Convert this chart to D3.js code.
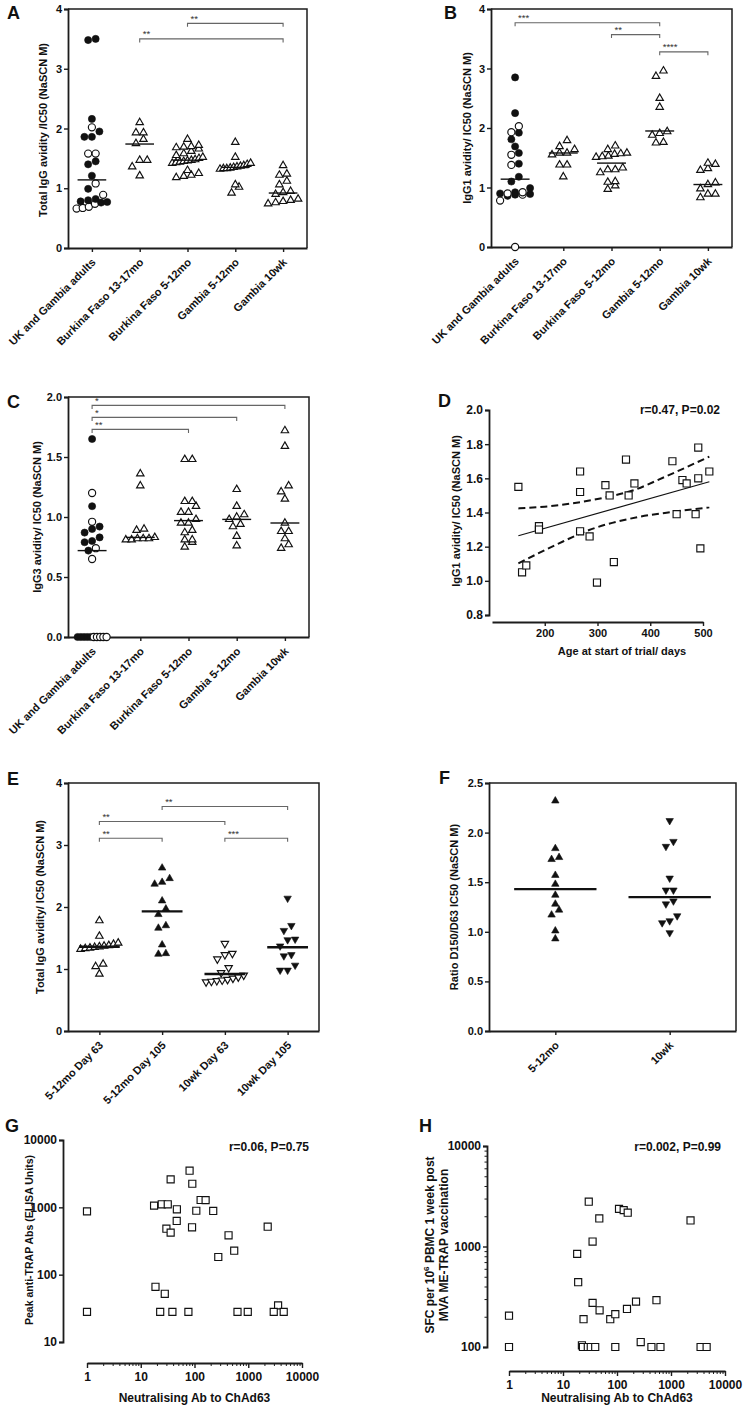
<!DOCTYPE html>
<html>
<head>
<meta charset="utf-8">
<script src="https://cdn.jsdelivr.net/npm/d3@7"></script>
<style>
body { margin: 0; background: #fff; }
svg { display: block; font-family: "Liberation Sans", Arial, sans-serif; font-weight: bold; }
</style>
</head>
<body>
<script>
// ---- data ----

// A: total IgG avidity
var catsAC = ["UK and Gambia adults", "Burkina Faso 13-17mo", "Burkina Faso 5-12mo", "Gambia 5-12mo", "Gambia 10wk"];
var aUkFilled = [3.50, 3.48, 2.16, 1.95, 1.86, 1.86, 1.45, 1.40, 1.21, 0.99, 0.82, 0.80, 0.78, 0.77, 0.76];
var aUkOpen = [2.02, 1.58, 1.58, 1.08, 0.89, 0.74, 0.69, 0.67, 0.66];
var aBf1317 = [2.10, 1.93, 1.93, 1.82, 1.75, 1.47, 1.47, 1.36, 1.21];
var aBf512 = [1.82, 1.72, 1.70, 1.69, 1.68, 1.66, 1.62, 1.58, 1.55, 1.52, 1.50, 1.48, 1.47, 1.46, 1.45, 1.44, 1.43, 1.42, 1.30, 1.25, 1.22, 1.20, 1.18];
var aGam512 = [1.77, 1.52, 1.42, 1.40, 1.38, 1.37, 1.36, 1.35, 1.34, 1.33, 1.33, 1.32, 1.06, 1.02, 0.92];
var aGam10 = [1.38, 1.24, 1.22, 1.12, 1.06, 0.95, 0.93, 0.90, 0.82, 0.80, 0.78, 0.76, 0.74];
var aMedians = [1.14, 1.74, 1.47, 1.35, 0.92];
var aSig = [[1, 4, 3.50, "**"], [2, 4, 3.76, "**"]];

// B: IgG1 avidity
var bUkFilled = [2.85, 2.25, 1.92, 1.81, 1.69, 1.58, 1.40, 1.18, 1.10, 0.99, 0.92, 0.90, 0.89, 0.88, 0.86];
var bUkOpen = [2.03, 1.93, 1.55, 1.38, 0.92, 0.90, 0.88, 0.78, 0.0];
var bBf1317 = [1.79, 1.69, 1.64, 1.58, 1.58, 1.55, 1.38, 1.38, 1.18];
var bBf512 = [1.70, 1.64, 1.58, 1.57, 1.56, 1.53, 1.52, 1.51, 1.33, 1.30, 1.30, 1.25, 1.10, 1.09, 1.03, 0.97];
var bGam512 = [2.96, 2.87, 2.50, 2.35, 1.94, 1.91, 1.88, 1.76, 1.75];
var bGam10 = [1.41, 1.39, 1.32, 1.29, 1.08, 1.05, 0.98, 0.89, 0.89, 0.83];
var bMedians = [1.14, 1.58, 1.41, 1.95, 1.05];
var bSig = [[0, 3, 3.77, "***"], [2, 3, 3.57, "**"], [3, 4, 3.28, "****"]];

// C: IgG3 avidity
var cUkFilled = [1.65, 1.09, 0.92, 0.90, 0.87, 0.83, 0.80, 0.79, 0.72, 0, 0, 0, 0, 0];
var cUkOpen = [1.20, 0.96, 0.74, 0.65, 0, 0, 0, 0, 0];
var cBf1317 = [1.36, 1.26, 0.90, 0.89, 0.83, 0.82, 0.82, 0.81, 0.81, 0.82];
var cBf512 = [1.48, 1.48, 1.13, 1.13, 1.09, 1.04, 1.04, 0.98, 0.95, 0.95, 0.89, 0.87, 0.81, 0.81, 0.79, 0.75];
var cGam512 = [1.23, 1.09, 1.02, 1.00, 0.98, 0.94, 0.92, 0.84, 0.76];
var cGam10 = [1.72, 1.59, 1.26, 1.21, 1.15, 0.95, 0.88, 0.88, 0.82, 0.77, 0.74];
var cMedians = [0.72, 0.83, 0.97, 0.98, 0.95];
var cSig = [[0, 4, 1.93, "*"], [0, 3, 1.83, "*"], [0, 2, 1.73, "**"]];

// D: IgG1 avidity vs age
var dAge = [150, 157, 165, 189, 189, 267, 267, 267, 285, 299, 315, 323, 331, 354, 359, 370, 442, 450, 461, 469, 486, 491, 491, 495, 512];
var dAvidity = [1.55, 1.05, 1.09, 1.32, 1.30, 1.64, 1.52, 1.29, 1.26, 0.99, 1.56, 1.50, 1.11, 1.71, 1.50, 1.57, 1.70, 1.39, 1.59, 1.57, 1.39, 1.78, 1.60, 1.19, 1.64];
var dFitAge = [150, 512];
var dFitVal = [1.264, 1.58];
var dUpperAge = [150, 200, 251, 314, 365, 428, 512];
var dUpperVal = [1.424, 1.434, 1.453, 1.488, 1.527, 1.609, 1.727];
var dLowerAge = [150, 226, 283, 378, 441, 512];
var dLowerVal = [1.102, 1.218, 1.296, 1.374, 1.403, 1.43];

// E: total IgG avidity by day
var catsE = ["5-12mo Day 63", "5-12mo Day 105", "10wk Day 63", "10wk Day 105"];
var e512d63 = [1.78, 1.53, 1.42, 1.40, 1.38, 1.37, 1.36, 1.35, 1.34, 1.33, 1.32, 1.08, 1.04, 0.92];
var e512d105 = [2.63, 2.46, 2.40, 2.37, 2.10, 1.97, 1.88, 1.70, 1.66, 1.39, 1.25, 1.24];
var e10d63 = [1.41, 1.25, 1.23, 1.16, 1.02, 0.94, 0.90, 0.87, 0.85, 0.83, 0.82, 0.81, 0.80, 0.79];
var e10d105 = [2.14, 1.70, 1.62, 1.48, 1.47, 1.37, 1.23, 1.21, 1.06, 0.98, 0.98];
var eMedians = [1.36, 1.93, 0.92, 1.35];
var eSig = [[1, 3, 3.62, "**"], [0, 2, 3.38, "**"], [0, 1, 3.11, "**"], [2, 3, 3.11, "***"]];

// F: ratio D150/D63
var catsF = ["5-12mo", "10wk"];
var f512 = [2.32, 1.84, 1.75, 1.73, 1.57, 1.48, 1.37, 1.28, 1.22, 1.17, 1.01, 0.93];
var f10 = [2.12, 1.91, 1.86, 1.54, 1.42, 1.42, 1.31, 1.28, 1.16, 1.11, 1.09, 0.99];
var fMedians = [1.43, 1.35];

// G: peak anti-TRAP Abs vs neutralising Ab
var gNab = [1, 1, 17.7, 24.6, 31.8, 36, 47, 46.7, 30, 36, 81, 91, 130, 161, 108, 223, 90, 430, 548, 277, 2300, 18.8, 28, 23, 38.8, 77, 631, 980, 3590, 2980, 4570];
var gTrap = [870, 28, 1060, 1110, 1110, 2600, 935, 627, 482, 421, 3500, 2240, 1285, 1280, 890, 883, 505, 384, 227, 183, 516, 66, 52, 28, 28, 28, 28, 28, 35, 28, 28];

// H: SFC vs neutralising Ab
var hNab = [1, 1, 30, 47, 35.3, 18.3, 19.1, 109, 133, 158, 2300, 35.3, 47.6, 24, 75, 93, 153, 225, 538, 275, 22.4, 23.4, 28.8, 32.7, 39.5, 93, 434, 638, 3530, 4570];
var hSfc = [205, 100, 2790, 1900, 1120, 845, 441, 2370, 2300, 2170, 1815, 275, 232, 189, 189, 212, 239, 283, 292, 112, 104, 100, 100, 100, 100, 100, 100, 100, 100, 100];

// ---- drawing ----
var ink = "#1c1c1c";
var fontFam = "Liberation Sans, Arial, sans-serif";
var svg = d3.select("body").append("svg").attr("width", 743).attr("height", 1406);

var symbols = {
    circle: d3.symbol().type(d3.symbolCircle).size(40),
    tri: d3.symbol().type(d3.symbolTriangle).size(24),
    square: d3.symbol().type(d3.symbolSquare).size(50)
};

function styleAxis(sel, fs) {
    sel.attr("font-family", fontFam).attr("font-size", fs).attr("font-weight", "bold");
    sel.select(".domain").attr("stroke", ink).attr("stroke-width", 1.8);
    sel.selectAll(".tick line").attr("stroke", ink).attr("stroke-width", 1.4);
    sel.selectAll(".tick text").attr("fill", "#111");
}

function drawMarker(g, px, py, sym, filled) {
    var shape = sym === "circle" ? symbols.circle : sym === "square" ? symbols.square : symbols.tri;
    var rot = sym === "tridown" ? " rotate(180)" : "";
    g.append("path")
        .attr("d", shape())
        .attr("transform", "translate(" + px + "," + py + ")" + rot)
        .attr("fill", filled ? "#111" : "#fff")
        .attr("stroke", "#111")
        .attr("stroke-width", filled ? 0.6 : 1.15);
}

// row layout like a column scatter: nearby values sit side by side
function swarm(points, y, gap, maxHalf) {
    points.forEach(function(p) { p.py = y(p.v); });
    var sorted = points.slice().sort(function(a, b) { return b.py - a.py; });
    var rows = [], cur = null;
    sorted.forEach(function(p) {
        if (cur && Math.abs(p.py - cur[0].py) < gap) cur.push(p);
        else { cur = [p]; rows.push(cur); }
    });
    rows.forEach(function(r) {
        var n = r.length;
        var s = n > 1 ? Math.min(gap + 0.5, 2 * maxHalf / (n - 1)) : 0;
        r.forEach(function(p, i) { p.dx = (i - (n - 1) / 2) * s; });
    });
    return sorted;
}

function letter(txt, x, y) {
    svg.append("text").attr("x", x).attr("y", y)
        .attr("font-size", 18).attr("font-weight", "bold").attr("fill", "#111").text(txt);
}

function yTitle(lines, x, y, fs) {
    var t = svg.append("text")
        .attr("transform", "translate(" + x + "," + y + ") rotate(-90)")
        .attr("text-anchor", "middle").attr("font-size", fs).attr("fill", "#111");
    t.text(lines);
    return t;
}

function columnPanel(p) {
    var g = svg.append("g");
    var x = d3.scalePoint().domain(d3.range(p.cats.length)).range([p.left, p.right]).padding(p.pad);
    var y = d3.scaleLinear().domain(p.domain).range([p.bottom, p.top]);
    var step = x.step();

    // frame (top + right)
    g.append("path")
        .attr("d", "M" + x.range()[0] + "," + y.range()[1] + "H" + x.range()[1] + "V" + y.range()[0])
        .attr("fill", "none").attr("stroke", ink).attr("stroke-width", 1.5);

    var ya = g.append("g").attr("transform", "translate(" + p.left + ",0)")
        .call(d3.axisLeft(y).tickValues(p.ticks).tickFormat(p.fmt).tickSize(4).tickPadding(2));
    styleAxis(ya, 11);

    var xa = g.append("g").attr("transform", "translate(0," + p.bottom + ")")
        .call(d3.axisBottom(x).tickFormat(function(i) { return p.cats[i]; }).tickSize(4).tickSizeOuter(0));
    styleAxis(xa, 11);
    xa.selectAll(".tick text")
        .attr("x", 0).attr("y", 0).attr("dy", 0)
        .attr("text-anchor", "end")
        .attr("transform", "translate(4,15) rotate(-45)");

    // brackets
    p.sig.forEach(function(s) {
        var x1 = x(s[0]), x2 = x(s[1]), yy = y(s[2]);
        g.append("path")
            .attr("d", "M" + x1 + "," + (yy + 3.5) + "V" + yy + "H" + x2 + "V" + (yy + 3.5))
            .attr("fill", "none").attr("stroke", "#666").attr("stroke-width", 1.1);
        g.append("text").attr("x", x1 + 3).attr("y", yy - 1.5)
            .attr("font-size", 9.5).attr("font-weight", "normal").attr("fill", "#333").text(s[3]);
    });

    // points
    p.groups.forEach(function(grp, i) {
        var pts = [];
        grp.forEach(function(sub) {
            sub.vals.forEach(function(v) { pts.push({ v: v, sym: sub.sym, filled: sub.filled }); });
        });
        swarm(pts, y, p.gap, step * p.spread).forEach(function(pt) {
            drawMarker(g, x(i) + pt.dx, pt.py, pt.sym, pt.filled);
        });
    });

    // medians
    p.medians.forEach(function(m, i) {
        g.append("line")
            .attr("x1", x(i) - step * p.medW / 2).attr("x2", x(i) + step * p.medW / 2)
            .attr("y1", y(m)).attr("y2", y(m))
            .attr("stroke", "#111").attr("stroke-width", p.medStroke);
    });
    return { x: x, y: y };
}

// ---- A ----
columnPanel({
    left: 68, right: 307, top: 9, bottom: 248, pad: 0.5,
    domain: [0, 4], ticks: [0, 1, 2, 3, 4], fmt: d3.format("d"),
    cats: catsAC, gap: 7, spread: 0.32, medW: 0.6, medStroke: 1.4,
    groups: [
        [{ vals: aUkFilled, sym: "circle", filled: true }, { vals: aUkOpen, sym: "circle", filled: false }],
        [{ vals: aBf1317, sym: "tri", filled: false }],
        [{ vals: aBf512, sym: "tri", filled: false }],
        [{ vals: aGam512, sym: "tri", filled: false }],
        [{ vals: aGam10, sym: "tri", filled: false }]
    ],
    medians: aMedians, sig: aSig
});
letter("A", 7, 19);
yTitle("Total IgG avidity /IC50 (NaSCN M)", 47, 130, 11);

// ---- B ----
columnPanel({
    left: 491, right: 732, top: 9, bottom: 247, pad: 0.5,
    domain: [0, 4], ticks: [0, 1, 2, 3, 4], fmt: d3.format("d"),
    cats: catsAC, gap: 7, spread: 0.32, medW: 0.6, medStroke: 1.4,
    groups: [
        [{ vals: bUkFilled, sym: "circle", filled: true }, { vals: bUkOpen, sym: "circle", filled: false }],
        [{ vals: bBf1317, sym: "tri", filled: false }],
        [{ vals: bBf512, sym: "tri", filled: false }],
        [{ vals: bGam512, sym: "tri", filled: false }],
        [{ vals: bGam10, sym: "tri", filled: false }]
    ],
    medians: bMedians, sig: bSig
});
letter("B", 444, 19);
yTitle("IgG1 avidity/ IC50 (NaSCN M)", 471, 128, 11);

// ---- C ----
columnPanel({
    left: 68, right: 309, top: 397, bottom: 637, pad: 0.5,
    domain: [0, 2], ticks: [0, 0.5, 1, 1.5, 2], fmt: d3.format(".1f"),
    cats: catsAC, gap: 7, spread: 0.3, medW: 0.6, medStroke: 1.4,
    groups: [
        [{ vals: cUkFilled, sym: "circle", filled: true }, { vals: cUkOpen, sym: "circle", filled: false }],
        [{ vals: cBf1317, sym: "tri", filled: false }],
        [{ vals: cBf512, sym: "tri", filled: false }],
        [{ vals: cGam512, sym: "tri", filled: false }],
        [{ vals: cGam10, sym: "tri", filled: false }]
    ],
    medians: cMedians, sig: cSig
});
letter("C", 7, 408);
yTitle("IgG3 avidity/ IC50 (NaSCN M)", 41, 517, 11);

// ---- E ----
columnPanel({
    left: 68, right: 319, top: 783, bottom: 1031, pad: 0.5,
    domain: [0, 4], ticks: [0, 1, 2, 3, 4], fmt: d3.format("d"),
    cats: catsE, gap: 7, spread: 0.3, medW: 0.65, medStroke: 2.4,
    groups: [
        [{ vals: e512d63, sym: "tri", filled: false }],
        [{ vals: e512d105, sym: "tri", filled: true }],
        [{ vals: e10d63, sym: "tridown", filled: false }],
        [{ vals: e10d105, sym: "tridown", filled: true }]
    ],
    medians: eMedians, sig: eSig
});
letter("E", 7, 785);
yTitle("Total IgG avidity/ IC50 (NaSCN M)", 44, 907, 11);

// ---- F ----
columnPanel({
    left: 489, right: 736, top: 783, bottom: 1031, pad: 0.58,
    domain: [0, 2.5], ticks: [0, 0.5, 1, 1.5, 2, 2.5], fmt: d3.format(".1f"),
    cats: catsF, gap: 7, spread: 0.16, medW: 0.72, medStroke: 2.4,
    groups: [
        [{ vals: f512, sym: "tri", filled: true }],
        [{ vals: f10, sym: "tridown", filled: true }]
    ],
    medians: fMedians, sig: []
});
letter("F", 439, 784);
yTitle("Ratio D150/D63 IC50 (NaSCN M)", 458, 907, 11);

// ---- D ----
(function() {
    var g = svg.append("g");
    var x = d3.scaleLinear().domain([100, 500]).range([492, 703]);
    var y = d3.scaleLinear().domain([0.8, 2.0]).range([615, 410]);

    var ya = g.append("g").attr("transform", "translate(489,0)")
        .call(d3.axisLeft(y).tickValues([0.8, 1.0, 1.2, 1.4, 1.6, 1.8, 2.0]).tickFormat(d3.format(".1f")).tickSize(4).tickPadding(2));
    styleAxis(ya, 12);
    var xa = g.append("g").attr("transform", "translate(0,622)")
        .call(d3.axisBottom(x).tickValues([200, 300, 400, 500]).tickSize(4).tickSizeOuter(0));
    styleAxis(xa, 11);

    var band = d3.line().x(function(d) { return x(d[0]); }).y(function(d) { return y(d[1]); }).curve(d3.curveMonotoneX);
    g.append("path").attr("d", band(d3.zip(dUpperAge, dUpperVal)))
        .attr("fill", "none").attr("stroke", "#111").attr("stroke-width", 2).attr("stroke-dasharray", "7,4");
    g.append("path").attr("d", band(d3.zip(dLowerAge, dLowerVal)))
        .attr("fill", "none").attr("stroke", "#111").attr("stroke-width", 2).attr("stroke-dasharray", "7,4");
    g.append("path").attr("d", band(d3.zip(dFitAge, dFitVal)))
        .attr("fill", "none").attr("stroke", "#111").attr("stroke-width", 1.2);

    dAge.forEach(function(a, i) { drawMarker(g, x(a), y(dAvidity[i]), "square", false); });

    g.append("text").attr("x", 720).attr("y", 414).attr("text-anchor", "end")
        .attr("font-size", 12).attr("fill", "#111").text("r=0.47, P=0.02");
    g.append("text").attr("x", 622).attr("y", 655).attr("text-anchor", "middle")
        .attr("font-size", 11).attr("fill", "#111").text("Age at start of trial/ days");
})();
letter("D", 438, 407);
yTitle("IgG1 avidity/ IC50 (NaSCN M)", 460, 511, 11);

// ---- G and H (log-log) ----
function minorTicks(lo, hi) {
    var out = [];
    for (var e = lo; e < hi; e *= 10) for (var k = 2; k <= 9; k++) out.push(e * k);
    return out;
}

function logPanel(p) {
    var g = svg.append("g");
    var x = d3.scaleLog().domain([1, 10000]).range([p.x0, p.x1]);
    var y = d3.scaleLog().domain(p.yDomain).range([p.y0, p.y1]);

    var ya = g.append("g").attr("transform", "translate(" + p.yAxisX + ",0)")
        .call(d3.axisLeft(y).tickValues(p.yTicks).tickFormat(d3.format("d")).tickSize(4).tickPadding(2));
    styleAxis(ya, 12);
    if (p.yMinor) {
        var ym = g.append("g").attr("transform", "translate(" + p.yAxisX + ",0)")
            .call(d3.axisLeft(y).tickValues(minorTicks(p.yDomain[0], p.yDomain[1])).tickFormat("").tickSize(2.5));
        ym.select(".domain").remove();
        ym.selectAll(".tick line").attr("stroke", ink).attr("stroke-width", 1);
    }

    var xa = g.append("g").attr("transform", "translate(0," + p.xAxisY + ")")
        .call(d3.axisBottom(x).tickValues([1, 10, 100, 1000, 10000]).tickFormat(d3.format("d")).tickSize(5).tickSizeOuter(0).tickPadding(4));
    styleAxis(xa, 12);
    var xm = g.append("g").attr("transform", "translate(0," + p.xAxisY + ")")
        .call(d3.axisBottom(x).tickValues(minorTicks(1, 10000)).tickFormat("").tickSize(3));
    xm.select(".domain").remove();
    xm.selectAll(".tick line").attr("stroke", ink).attr("stroke-width", 1);

    p.xs.forEach(function(v, i) { drawMarker(g, x(v), y(p.ys[i]), "square", false); });

    g.append("text").attr("x", p.annX).attr("y", p.annY).attr("text-anchor", "end")
        .attr("font-size", 12).attr("fill", "#111").text(p.ann);
    g.append("text").attr("x", (p.x0 + p.x1) / 2).attr("y", p.xTitleY).attr("text-anchor", "middle")
        .attr("font-size", 12).attr("fill", "#111").text("Neutralising Ab to ChAd63");
}

logPanel({
    x0: 87, x1: 302, xAxisY: 1363, yAxisX: 63,
    yDomain: [10, 10000], y0: 1342, y1: 1140, yTicks: [10, 100, 1000, 10000], yMinor: false,
    xs: gNab, ys: gTrap, ann: "r=0.06, P=0.75", annX: 309, annY: 1151, xTitleY: 1402
});
letter("G", 5, 1132);
yTitle("Peak anti-TRAP Abs (ELISA Units)", 33, 1240, 10.5);

logPanel({
    x0: 509, x1: 725, xAxisY: 1371, yAxisX: 487,
    yDomain: [100, 10000], y0: 1347, y1: 1146, yTicks: [100, 1000, 10000], yMinor: true,
    xs: hNab, ys: hSfc, ann: "r=0.002, P=0.99", annX: 721, annY: 1151, xTitleY: 1402
});
letter("H", 419, 1132);
(function() {
    var t = svg.append("text")
        .attr("transform", "translate(434,1245) rotate(-90)")
        .attr("text-anchor", "middle").attr("font-size", 12).attr("fill", "#111");
    t.append("tspan").text("SFC per 10");
    t.append("tspan").attr("dy", -5).attr("font-size", 8).text("6");
    t.append("tspan").attr("dy", 5).text(" PBMC 1 week post");
    yTitle("MVA ME-TRAP vaccination", 448, 1245, 12);
})();
</script>
</body>
</html>
